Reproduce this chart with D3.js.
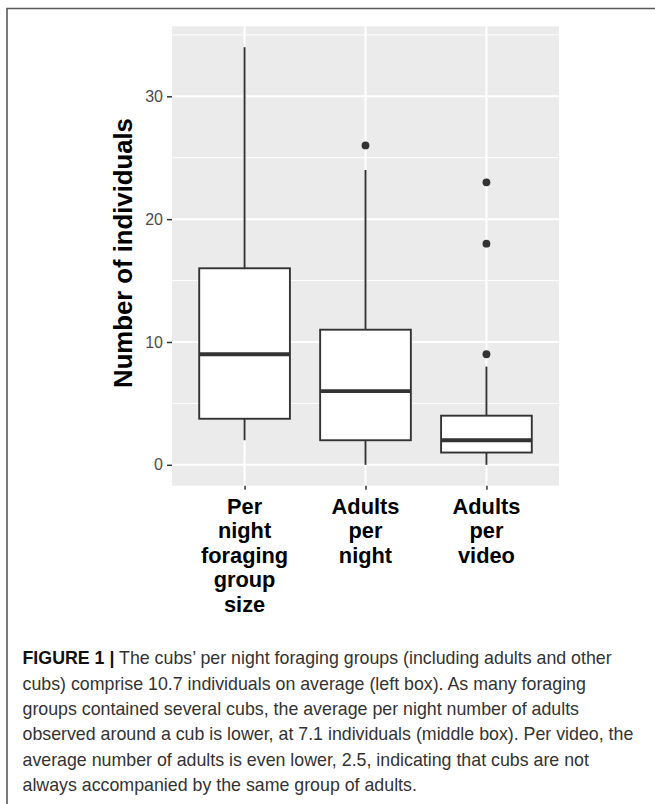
<!DOCTYPE html>
<html>
<head>
<meta charset="utf-8">
<script src="https://cdn.jsdelivr.net/npm/d3@7"></script>
<style>
  html, body { margin: 0; padding: 0; background: #ffffff; }
  svg { display: block; }
</style>
</head>
<body>
<div id="chart"></div>
<script>
// Group-size summaries (five-number summaries + outlying points)
const categories = ["Per night foraging group size", "Adults per night", "Adults per video"];
const categoryLines = [
  ["Per", "night", "foraging", "group", "size"],
  ["Adults", "per", "night"],
  ["Adults", "per", "video"]
];
const whiskerLow  = [2, 0, 0];
const q1          = [3.75, 2, 1];
const medians     = [9, 6, 2];
const q3          = [16, 11, 4];
const whiskerHigh = [34, 24, 8];
const outliers    = [[], [26], [9, 18, 23]];
const yTicks      = [0, 10, 20, 30];
const yMinorTicks = [5, 15, 25, 35];
const yLimits     = [0, 34];

const captionLead = "FIGURE 1 |";
const captionLines = [
  " The cubs\u2019 per night foraging groups (including adults and other",
  "cubs) comprise 10.7 individuals on average (left box). As many foraging",
  "groups contained several cubs, the average per night number of adults",
  "observed around a cub is lower, at 7.1 individuals (middle box). Per video, the",
  "average number of adults is even lower, 2.5, indicating that cubs are not",
  "always accompanied by the same group of adults."
];

const W = 655, H = 804;
const panel = { left: 172, right: 559, top: 26.3, bottom: 485.7 };

const svg = d3.select("#chart").append("svg")
  .attr("width", W).attr("height", H);

// figure frame (top and left rules)
svg.append("path")
  .attr("d", `M${W},8.5 H7 V${H}`)
  .attr("fill", "none")
  .attr("stroke", "#5a5a5a")
  .attr("stroke-width", 1.6);

// scales with ggplot-style expansion
const span = yLimits[1] - yLimits[0];
const y = d3.scaleLinear()
  .domain([yLimits[0] - 0.05 * span, yLimits[1] + 0.05 * span])
  .range([panel.bottom, panel.top]);
const x = d3.scalePoint()
  .domain(categories)
  .range([panel.left, panel.right])
  .padding(0.6);
const boxW = 0.75 * x.step();

const data = categories.map((c, i) => ({
  cat: c, lo: whiskerLow[i], q1: q1[i], med: medians[i], q3: q3[i], hi: whiskerHigh[i],
  out: outliers[i], lines: categoryLines[i]
}));

// panel background
svg.append("rect")
  .attr("x", panel.left).attr("y", panel.top)
  .attr("width", panel.right - panel.left).attr("height", panel.bottom - panel.top)
  .attr("fill", "#EBEBEB");

const grid = svg.append("g");
grid.selectAll("line.minor").data(yMinorTicks).join("line")
  .attr("class", "minor")
  .attr("x1", panel.left).attr("x2", panel.right)
  .attr("y1", d => y(d)).attr("y2", d => y(d))
  .attr("stroke", "#ffffff").attr("stroke-width", 1);
grid.selectAll("line.majorY").data(yTicks).join("line")
  .attr("class", "majorY")
  .attr("x1", panel.left).attr("x2", panel.right)
  .attr("y1", d => y(d)).attr("y2", d => y(d))
  .attr("stroke", "#ffffff").attr("stroke-width", 2);
grid.selectAll("line.majorX").data(categories).join("line")
  .attr("class", "majorX")
  .attr("y1", panel.top).attr("y2", panel.bottom)
  .attr("x1", d => x(d)).attr("x2", d => x(d))
  .attr("stroke", "#ffffff").attr("stroke-width", 2);

// boxplots
const ink = "#333333";
const lw = 1.9;
const boxes = svg.append("g").selectAll("g").data(data).join("g");
boxes.append("line")
  .attr("x1", d => x(d.cat)).attr("x2", d => x(d.cat))
  .attr("y1", d => y(d.hi)).attr("y2", d => y(d.q3))
  .attr("stroke", ink).attr("stroke-width", lw);
boxes.append("line")
  .attr("x1", d => x(d.cat)).attr("x2", d => x(d.cat))
  .attr("y1", d => y(d.q1)).attr("y2", d => y(d.lo))
  .attr("stroke", ink).attr("stroke-width", lw);
boxes.append("rect")
  .attr("x", d => x(d.cat) - boxW / 2).attr("width", boxW)
  .attr("y", d => y(d.q3)).attr("height", d => y(d.q1) - y(d.q3))
  .attr("fill", "#ffffff").attr("stroke", ink).attr("stroke-width", lw);
boxes.append("line")
  .attr("x1", d => x(d.cat) - boxW / 2).attr("x2", d => x(d.cat) + boxW / 2)
  .attr("y1", d => y(d.med)).attr("y2", d => y(d.med))
  .attr("stroke", ink).attr("stroke-width", 3.8);
boxes.selectAll("circle").data(d => d.out.map(v => ({ cat: d.cat, v }))).join("circle")
  .attr("cx", d => x(d.cat)).attr("cy", d => y(d.v)).attr("r", 3.9)
  .attr("fill", ink);

// y axis
const yAxis = svg.append("g")
  .attr("transform", `translate(${panel.left},0)`)
  .call(d3.axisLeft(y).tickValues(yTicks).tickSize(5).tickPadding(4));
yAxis.select(".domain").remove();
yAxis.selectAll(".tick line").attr("stroke", ink).attr("stroke-width", 1.5);
yAxis.selectAll(".tick text")
  .attr("fill", "#4D4D4D")
  .style("font-family", "'Liberation Sans', Arial, sans-serif")
  .style("font-size", "16px");

// x axis (multi-line bold labels)
const xAxis = svg.append("g")
  .attr("transform", `translate(0,${panel.bottom})`)
  .call(d3.axisBottom(x).tickSize(4).tickFormat(""));
xAxis.select(".domain").remove();
xAxis.selectAll(".tick line").attr("stroke", ink).attr("stroke-width", 1.5);
xAxis.selectAll(".tick text").remove();

const xLabels = svg.append("g").selectAll("text").data(data).join("text")
  .attr("x", d => x(d.cat))
  .attr("y", 513.5)
  .attr("text-anchor", "middle")
  .attr("fill", "#000")
  .style("font-family", "'Liberation Sans', Arial, sans-serif")
  .style("font-weight", "bold")
  .style("font-size", "21.8px");
xLabels.selectAll("tspan").data(d => d.lines.map(l => ({ l, cx: x(d.cat) }))).join("tspan")
  .attr("x", d => d.cx)
  .attr("dy", (d, i) => i === 0 ? 0 : 24.6)
  .text(d => d.l);

// y axis title
svg.append("text")
  .attr("transform", "translate(132,253) rotate(-90)")
  .attr("text-anchor", "middle")
  .attr("fill", "#000")
  .style("font-family", "'Liberation Sans', Arial, sans-serif")
  .style("font-weight", "bold")
  .style("font-size", "25.7px")
  .text("Number of individuals");

// caption
const cap = svg.append("g")
  .style("font-family", "'Liberation Sans', Arial, sans-serif")
  .style("font-size", "17.8px");
cap.selectAll("text").data(captionLines).join("text")
  .attr("x", 22.5)
  .attr("y", (d, i) => 664.3 + i * 25.3)
  .attr("fill", "#333")
  .each(function (d, i) {
    const t = d3.select(this);
    if (i === 0) {
      t.append("tspan").attr("font-weight", "bold").attr("fill", "#111").text(captionLead);
    }
    t.append("tspan").text(d);
  });
</script>
</body>
</html>
